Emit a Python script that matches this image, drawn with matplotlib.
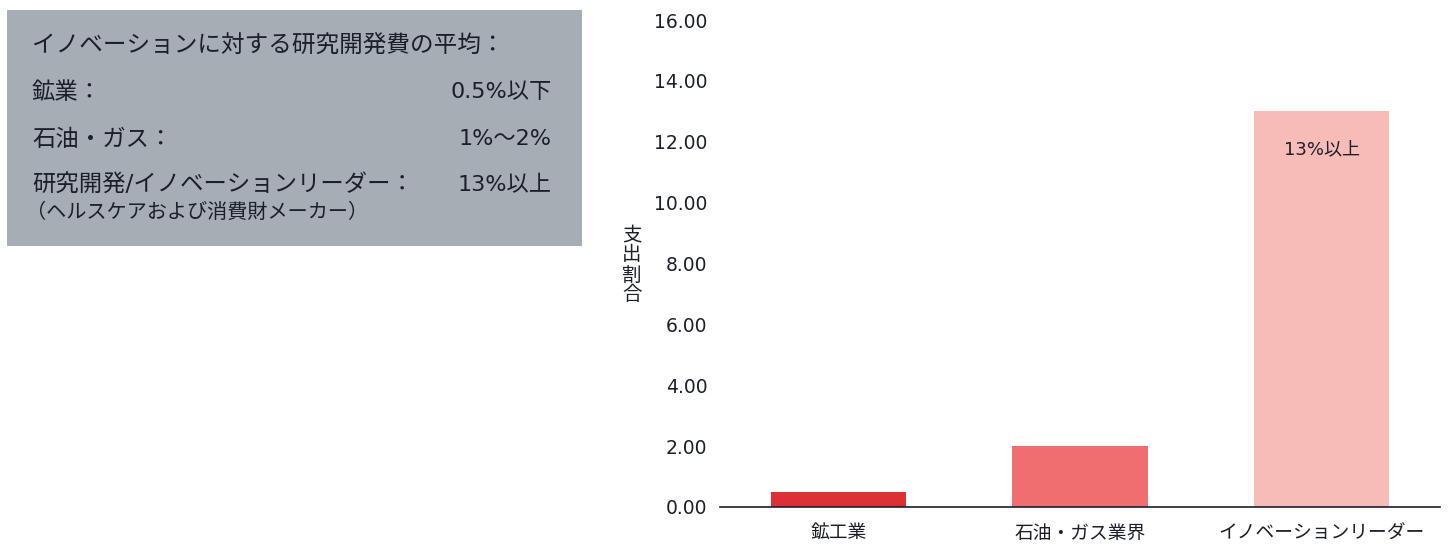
import matplotlib
matplotlib.use("Agg")
import matplotlib.pyplot as plt
from matplotlib.patches import Rectangle

plt.rcParams['font.family'] = ['DejaVu Sans', 'Noto Sans CJK JP']

categories = ["鉱工業", "石油・ガス業界", "イノベーションリーダー"]
values = [0.5, 2.0, 13.0]
bar_colors = ["#dc3034", "#f06e6f", "#f7bcb8"]
bar_label = "13%以上"
yticks = [0, 2, 4, 6, 8, 10, 12, 14, 16]
ylabel = "支出割合"

box_title = "イノベーションに対する研究開発費の平均："
box_rows = [("鉱業：", "0.5%以下"), ("石油・ガス：", "1%～2%"),
            ("研究開発/イノベーションリーダー：", "13%以上")]
box_note = "（ヘルスケアおよび消費財メーカー）"

TXT = "#1c1f2a"
W, H = 1451, 544
fig = plt.figure(figsize=(W / 100, H / 100), dpi=100)

# info box
fig.patches.append(Rectangle((7 / W, 1 - 246 / H), 575 / W, 236 / H,
                             transform=fig.transFigure, facecolor="#a6adb4",
                             edgecolor="none", zorder=0))
fig.text(32 / W, 1 - 46 / H, box_title, fontsize=17, color=TXT, va="center", ha="left")
row_y = [92, 139, 185]
for (lab, val), y in zip(box_rows, row_y):
    fig.text(32 / W, 1 - y / H, lab, fontsize=16.8, color=TXT, va="center", ha="left")
    fig.text(552 / W, 1 - y / H, val, fontsize=16, color=TXT, va="center", ha="right")
fig.text(26 / W, 1 - 212 / H, box_note, fontsize=14.5, color=TXT, va="center", ha="left")

# bar chart
ax = fig.add_axes([720 / W, 1 - 507 / H, (1440 - 720) / W, (507 - 20) / H])
x = list(range(len(categories)))
bars = ax.bar(x, values, width=0.56, color=bar_colors, zorder=2)
ax.set_xlim(-0.49, 2.49)
ax.set_ylim(0, 16)
ax.set_yticks(yticks)
ax.set_yticklabels([f"{v:.2f}" for v in yticks], fontsize=13.5, color=TXT)
ax.set_xticks(x)
ax.set_xticklabels(categories, fontsize=13.5, color=TXT)
ax.tick_params(axis="both", length=0)
ax.tick_params(axis="y", pad=9)
ax.tick_params(axis="x", pad=12)
for s in ["top", "right", "left"]:
    ax.spines[s].set_visible(False)
ax.spines["bottom"].set_color(TXT)
ax.spines["bottom"].set_linewidth(1.2)
ax.text(x[2], values[2] - 1.25, bar_label, ha="center", va="center",
        fontsize=13, color=TXT)

# vertical stacked y-axis label
for i, ch in enumerate(ylabel):
    fig.text(632 / W, 1 - (235 + 20 * i) / H, ch, fontsize=14, color=TXT,
             ha="center", va="center", family=['Noto Sans CJK JP', 'DejaVu Sans'])

fig.savefig("out.png", dpi=100)
